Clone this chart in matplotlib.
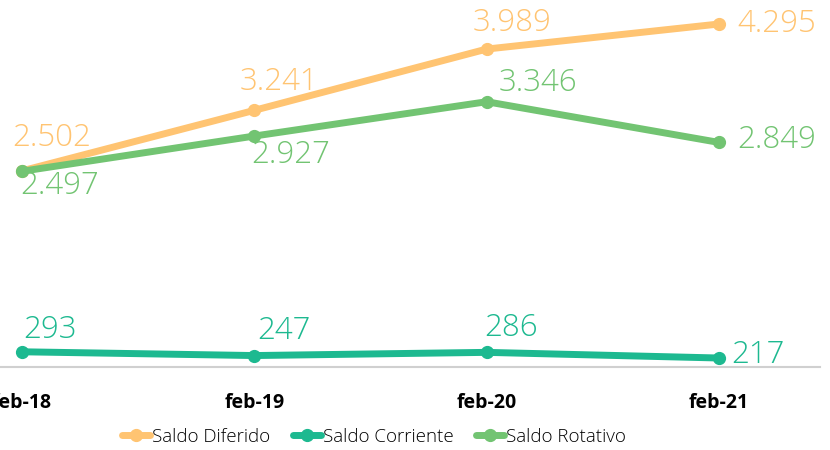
import numpy as np
import matplotlib
matplotlib.use('Agg')
import matplotlib.pyplot as plt

plt.rcParams['font.family'] = ['Open Sans', 'DejaVu Sans']

# datos de saldos
fechas = ['feb-18', 'feb-19', 'feb-20', 'feb-21']
series = {
    'Saldo Diferido': [2502, 3241, 3989, 4295],
    'Saldo Corriente': [293, 247, 286, 217],
    'Saldo Rotativo': [2497, 2927, 3346, 2849],
}
colores = {
    'Saldo Diferido': '#FFC472',
    'Saldo Corriente': '#1DB990',
    'Saldo Rotativo': '#72C472',
}
# desplazamiento de etiquetas en pixeles (dx, dy)
offsets = {
    'Saldo Diferido': [(30, 33), (25, 28), (25, 26), (58, 0)],
    'Saldo Corriente': [(28, 22), (30, 25), (24, 24), (39, 3)],
    'Saldo Rotativo': [(38, -15), (36, -19), (51, 19), (58, 2)],
}

fig = plt.figure(figsize=(8.3, 4.5), dpi=100)
ax = fig.add_axes([0, 0.1844, 820 / 830, 0.8156])

x = np.arange(len(fechas))
for nombre, valores in series.items():
    c = colores[nombre]
    ax.plot(x, valores, color=c, lw=5, marker='o', ms=8.5, label=nombre,
            solid_capstyle='round', zorder=3)
    for i, v in enumerate(valores):
        dx, dy = offsets[nombre][i]
        ax.annotate(f'{v:,}'.replace(',', '.'), (x[i], v), xytext=(dx, dy),
                    textcoords='offset pixels', ha='center', va='center',
                    fontsize=22.5, color=c, fontweight='light')

ax.set_xlim(-0.095, 3.435)
ax.set_ylim(107, 4588)
ax.set_xticks(x)
ax.set_xticklabels(fechas, fontweight='bold', fontsize=14)
ax.tick_params(axis='x', length=0, pad=19)
ax.set_yticks([])
for s in ['top', 'right', 'left']:
    ax.spines[s].set_visible(False)
ax.spines['bottom'].set_color('#D0D0D0')
ax.spines['bottom'].set_linewidth(1.5)

leg = fig.legend(loc='center', bbox_to_anchor=(374 / 830, 1 - 437 / 450), ncol=3,
                 frameon=False, fontsize=13.5, handlelength=1.5, handletextpad=0.1,
                 columnspacing=1.2)
for t in leg.get_texts():
    t.set_fontweight('light')

fig.savefig('out.png', dpi=100)
